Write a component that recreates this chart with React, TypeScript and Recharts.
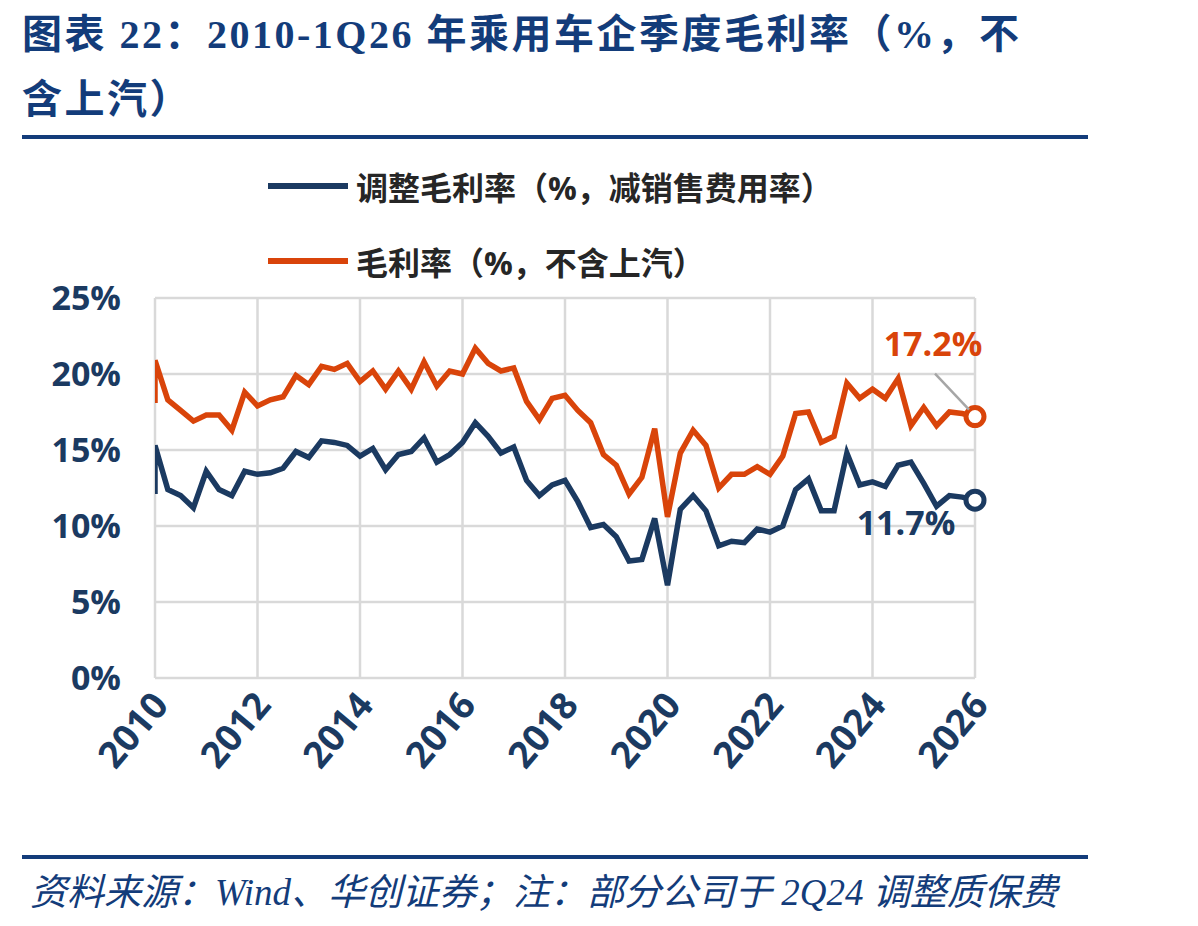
import { CartesianGrid, Line, LineChart, ReferenceDot, XAxis, YAxis } from 'recharts';

const quarters = [
  '1Q10', '2Q10', '3Q10', '4Q10', '1Q11', '2Q11', '3Q11', '4Q11',
  '1Q12', '2Q12', '3Q12', '4Q12', '1Q13', '2Q13', '3Q13', '4Q13',
  '1Q14', '2Q14', '3Q14', '4Q14', '1Q15', '2Q15', '3Q15', '4Q15',
  '1Q16', '2Q16', '3Q16', '4Q16', '1Q17', '2Q17', '3Q17', '4Q17',
  '1Q18', '2Q18', '3Q18', '4Q18', '1Q19', '2Q19', '3Q19', '4Q19',
  '1Q20', '2Q20', '3Q20', '4Q20', '1Q21', '2Q21', '3Q21', '4Q21',
  '1Q22', '2Q22', '3Q22', '4Q22', '1Q23', '2Q23', '3Q23', '4Q23',
  '1Q24', '2Q24', '3Q24', '4Q24', '1Q25', '2Q25', '3Q25', '4Q25',
  '1Q26',
];

// 调整毛利率（%，减销售费用率）
const adjustedMargin = [
  15.3, 12.4, 12.0, 11.2, 13.6, 12.4, 12.0, 13.6,
  13.4, 13.5, 13.8, 14.9, 14.5, 15.6, 15.5, 15.3,
  14.6, 15.1, 13.7, 14.7, 14.9, 15.8, 14.2, 14.7,
  15.5, 16.8, 15.9, 14.8, 15.2, 13.0, 12.0, 12.7,
  13.0, 11.6, 9.9, 10.1, 9.3, 7.7, 7.8, 10.5,
  6.1, 11.1, 12.0, 11.0, 8.7, 9.0, 8.9, 9.8,
  9.6, 10.0, 12.4, 13.1, 11.0, 11.0, 14.8, 12.7,
  12.9, 12.6, 14.0, 14.2, 12.8, 11.3, 12.0, 11.9,
  11.7,
];

// 毛利率（%，不含上汽）
const grossMargin = [
  20.9, 18.3, 17.6, 16.9, 17.3, 17.3, 16.3, 18.8,
  17.9, 18.3, 18.5, 19.9, 19.3, 20.5, 20.3, 20.7,
  19.5, 20.2, 19.0, 20.2, 19.0, 20.8, 19.2, 20.2,
  20.0, 21.7, 20.7, 20.2, 20.4, 18.2, 17.0, 18.4,
  18.6, 17.6, 16.8, 14.7, 14.0, 12.1, 13.2, 16.4,
  10.6, 14.8, 16.3, 15.3, 12.5, 13.4, 13.4, 13.9,
  13.4, 14.6, 17.4, 17.5, 15.5, 15.9, 19.4, 18.4,
  19.0, 18.4, 19.7, 16.6, 17.8, 16.6, 17.5, 17.4,
  17.2,
];

// where each line enters the plot from the left edge (previous quarter is clipped)
const leadIn = { adjusted: 12.1, gross: 18.1 };

const yearTicks = [2010, 2012, 2014, 2016, 2018, 2020, 2022, 2024, 2026];
const yTicks = [0, 5, 10, 15, 20, 25];

const NAVY = '#1b3a61';
const RED = '#d9440a';
const TITLE = '#133c7a';
const FONT = "'Open Sans', 'Noto Sans CJK SC', sans-serif";

const quarterToYear = (q: string) => 2000 + Number(q.slice(2)) + (Number(q[0]) - 1) / 4;

const chartData = [
  { t: 2010, adjusted: leadIn.adjusted, gross: leadIn.gross },
  ...quarters.map((q, i) => ({
    t: quarterToYear(q),
    q,
    adjusted: adjustedMargin[i],
    gross: grossMargin[i],
  })),
];
const lastIndex = chartData.length - 1;
const last = chartData[lastIndex];

const XTick = ({ x, y, payload }: any) => {
  const ax = x + 15;
  const ay = y + 20;
  return (
    <text
      x={ax}
      y={ay}
      transform={`rotate(-50 ${ax} ${ay})`}
      textAnchor="end"
      fill={NAVY}
      fontSize={37}
      fontWeight={700}
      fontFamily={FONT}
    >
      {payload.value}
    </text>
  );
};

const grossLabel = (props: any) => {
  const { x, y, index } = props;
  if (index !== lastIndex) return null;
  return (
    <g key="gl">
      <line x1={x - 40} y1={y - 43} x2={x - 6} y2={y - 7} stroke="#a6a6a6" strokeWidth={2.5} />
      <text x={x - 42} y={y - 61} textAnchor="middle" fill={RED} fontSize={34} fontWeight={700} fontFamily={FONT}>
        {`${last.gross}%`}
      </text>
    </g>
  );
};

const adjustedLabel = (props: any) => {
  const { x, y, index } = props;
  if (index !== lastIndex) return null;
  return (
    <text key="al" x={x - 69} y={y + 35} textAnchor="middle" fill={NAVY} fontSize={34} fontWeight={700} fontFamily={FONT}>
      {`${last.adjusted}%`}
    </text>
  );
};

const LegendRow = ({ color, text, top }: { color: string; text: string; top: number }) => (
  <div style={{ position: 'absolute', left: 268, top, display: 'flex', alignItems: 'center' }}>
    <div style={{ width: 80, height: 6, background: color, marginRight: 8 }} />
    <span style={{ fontSize: 32, fontWeight: 700, color: '#262626', fontFamily: FONT, whiteSpace: 'nowrap' }}>
      {text}
    </span>
  </div>
);

export default function App() {
  return (
    <div style={{ position: 'absolute', left: 0, top: 0, width: 1198, height: 926, background: '#fff' }}>
      <div
        style={{
          position: 'absolute',
          left: 22,
          top: 2,
          fontFamily: "'Liberation Serif', 'Noto Sans CJK SC', serif",
          fontWeight: 700,
          fontSize: 40,
          lineHeight: '65px',
          letterSpacing: 2.5,
          color: TITLE,
          whiteSpace: 'nowrap',
        }}
      >
        图表 22：2010-1Q26 年乘用车企季度毛利率（%，不
        <br />
        含上汽）
      </div>
      <div style={{ position: 'absolute', left: 22, top: 135, width: 1066, height: 4, background: TITLE }} />

      <LegendRow color={NAVY} text="调整毛利率（%，减销售费用率）" top={163} />
      <LegendRow color={RED} text="毛利率（%，不含上汽）" top={238} />

      <div style={{ position: 'absolute', left: 0, top: 0 }}>
        <LineChart width={1198} height={926} data={chartData} margin={{ top: 298, right: 223, bottom: 128, left: 55 }}>
          <CartesianGrid stroke="#d9d9d9" strokeWidth={2.5} />
          <XAxis
            dataKey="t"
            type="number"
            domain={[2010, 2026]}
            ticks={yearTicks}
            allowDataOverflow
            axisLine={false}
            tickLine={false}
            height={120}
            interval={0}
            tick={<XTick />}
          />
          <YAxis
            domain={[0, 25]}
            ticks={yTicks}
            width={100}
            axisLine={false}
            tickLine={false}
            tickMargin={28}
            tickFormatter={(v: number) => `${v}%`}
            tick={{ fill: NAVY, fontSize: 34, fontWeight: 700, fontFamily: FONT }}
          />
          <Line
            dataKey="gross"
            stroke={RED}
            strokeWidth={5.5}
            dot={false}
            activeDot={false}
            label={grossLabel}
            isAnimationActive={false}
          />
          <Line
            dataKey="adjusted"
            stroke={NAVY}
            strokeWidth={5.5}
            dot={false}
            activeDot={false}
            label={adjustedLabel}
            isAnimationActive={false}
          />
          <ReferenceDot x={last.t} y={last.gross} r={9} fill="#fff" stroke={RED} strokeWidth={5} ifOverflow="visible" />
          <ReferenceDot x={last.t} y={last.adjusted} r={9} fill="#fff" stroke={NAVY} strokeWidth={5} ifOverflow="visible" />
        </LineChart>
      </div>

      <div style={{ position: 'absolute', left: 22, top: 855, width: 1066, height: 4, background: TITLE }} />
      <div
        style={{
          position: 'absolute',
          left: 30,
          top: 862,
          fontFamily: "'Liberation Serif', 'Noto Sans CJK SC', serif",
          fontStyle: 'italic',
          fontSize: 37,
          color: TITLE,
          whiteSpace: 'nowrap',
        }}
      >
        资料来源：Wind、华创证券；注：部分公司于 2Q24 调整质保费
      </div>
    </div>
  );
}
